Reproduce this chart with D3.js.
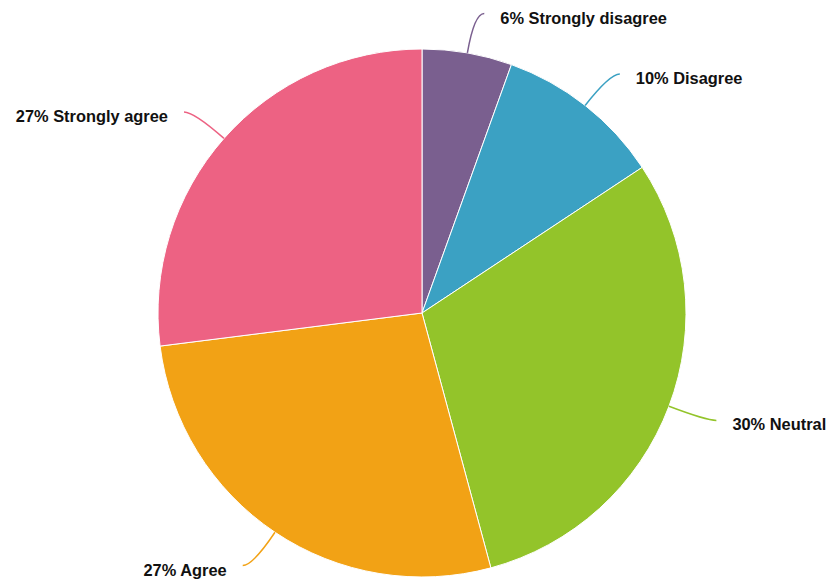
<!DOCTYPE html>
<html><head><meta charset="utf-8">
<script src="https://cdn.jsdelivr.net/npm/d3@7"></script>
<style>
html,body{margin:0;padding:0;background:#fff;}
svg{display:block;}
</style></head>
<body>
<svg id="chart" width="834" height="579"></svg>
<script>
const categories = ["Strongly disagree", "Disagree", "Neutral", "Agree", "Strongly agree"];
const values = [5.5, 10.2, 30.1, 27.2, 27.0];
const percentLabels = ["6%", "10%", "30%", "27%", "27%"];
const colors = ["#7a5f8f", "#3ba1c3", "#93c42a", "#f2a215", "#ed6283"];

const W = 834, H = 579;
const cx = 422, cy = 313, r = 264;
const svg = d3.select("#chart");
const g = svg.append("g").attr("transform", `translate(${cx},${cy})`);

const pie = d3.pie().sort(null).value(d => d)(values);
const arc = d3.arc().innerRadius(0).outerRadius(r);

g.selectAll("path.slice").data(pie).enter().append("path")
  .attr("class", "slice")
  .attr("d", arc)
  .attr("fill", (d, i) => colors[i])
  .attr("stroke", "#fff")
  .attr("stroke-width", 1);

const lineR = r + 40;
pie.forEach((d, i) => {
  const a = (d.startAngle + d.endAngle) / 2;
  const sx = r * Math.sin(a), sy = -r * Math.cos(a);
  const kx = lineR * Math.sin(a), ky = -lineR * Math.cos(a);
  const right = Math.sin(a) >= 0;
  const ex = kx + (right ? 10 : -10), ey = ky;
  const p = d3.path();
  p.moveTo(sx, sy);
  p.quadraticCurveTo(kx, ky, ex, ey);
  g.append("path").attr("d", p.toString())
    .attr("fill", "none").attr("stroke", colors[i]).attr("stroke-width", 1.5);
  g.append("text")
    .attr("x", ex + (right ? 16 : -16))
    .attr("y", ey + 10)
    .attr("text-anchor", right ? "start" : "end")
    .attr("font-family", "Liberation Sans, Arial, sans-serif")
    .attr("font-weight", "bold")
    .attr("font-size", 16.4)
    .attr("fill", "#111")
    .text(percentLabels[i] + " " + categories[i]);
});
</script>
</body></html>
